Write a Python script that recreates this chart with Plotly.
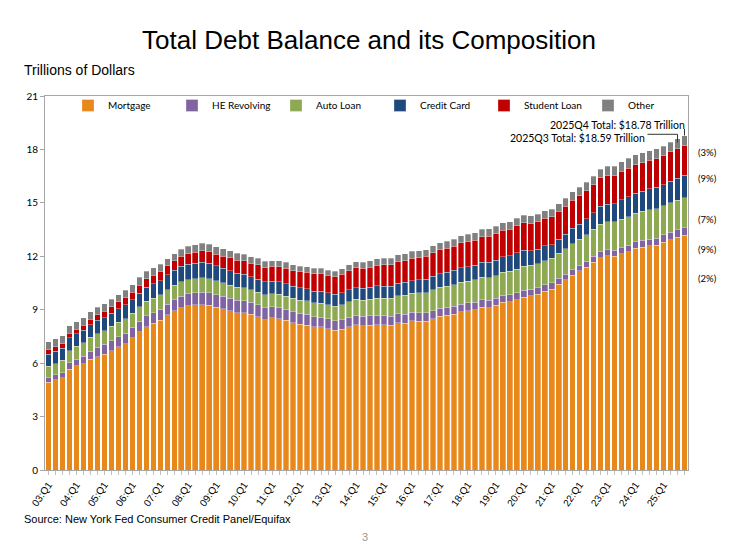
import plotly.graph_objects as go

# quarterly balances, trillions of dollars, 2003Q1 .. 2025Q4
years = list(range(2003, 2026))
quarters = [f"{y}Q{q}" for y in years for q in range(1, 5)]

mortgage = [
    4.94, 5.08, 5.18, 5.66, 5.84, 5.97, 6.21, 6.36, 6.51, 6.70, 6.91, 7.10,
    7.44, 7.76, 8.05, 8.23, 8.42, 8.71, 8.93, 9.10, 9.23, 9.27, 9.29, 9.26,
    9.14, 9.06, 8.94, 8.84, 8.83, 8.74, 8.61, 8.45, 8.54, 8.50, 8.40, 8.27,
    8.19, 8.14, 8.03, 8.03, 7.93, 7.84, 7.90, 8.05, 8.17, 8.10, 8.13, 8.17,
    8.17, 8.12, 8.26, 8.25, 8.37, 8.36, 8.35, 8.48, 8.63, 8.69, 8.74, 8.88,
    8.94, 9.00, 9.14, 9.12, 9.24, 9.41, 9.44, 9.56, 9.71, 9.78, 9.86, 10.04,
    10.16, 10.44, 10.67, 10.93, 11.18, 11.39, 11.67, 11.92, 12.04, 12.01, 12.14, 12.25,
    12.44, 12.52, 12.59, 12.61, 12.80, 12.94, 13.07, 13.17,
]
he_revolving = [
    0.24, 0.26, 0.29, 0.35, 0.39, 0.43, 0.47, 0.53, 0.54, 0.57, 0.58, 0.58,
    0.58, 0.60, 0.60, 0.60, 0.61, 0.61, 0.63, 0.65, 0.67, 0.68, 0.69, 0.70,
    0.71, 0.71, 0.70, 0.69, 0.68, 0.67, 0.67, 0.67, 0.64, 0.64, 0.64, 0.63,
    0.61, 0.61, 0.58, 0.56, 0.56, 0.55, 0.54, 0.53, 0.53, 0.53, 0.52, 0.51,
    0.51, 0.51, 0.50, 0.49, 0.49, 0.48, 0.47, 0.47, 0.46, 0.45, 0.45, 0.44,
    0.44, 0.43, 0.42, 0.41, 0.40, 0.40, 0.39, 0.39, 0.39, 0.37, 0.36, 0.35,
    0.35, 0.32, 0.32, 0.32, 0.32, 0.32, 0.32, 0.34, 0.34, 0.34, 0.35, 0.36,
    0.37, 0.37, 0.38, 0.39, 0.40, 0.41, 0.41, 0.43,
]
auto_loan = [
    0.64, 0.64, 0.68, 0.70, 0.72, 0.74, 0.77, 0.77, 0.78, 0.79, 0.82, 0.82,
    0.79, 0.80, 0.82, 0.82, 0.80, 0.81, 0.81, 0.82, 0.79, 0.80, 0.81, 0.79,
    0.77, 0.74, 0.74, 0.72, 0.71, 0.70, 0.70, 0.71, 0.71, 0.72, 0.73, 0.73,
    0.74, 0.75, 0.77, 0.78, 0.79, 0.81, 0.84, 0.86, 0.88, 0.90, 0.93, 0.96,
    0.97, 1.00, 1.03, 1.06, 1.07, 1.10, 1.14, 1.16, 1.17, 1.19, 1.21, 1.22,
    1.22, 1.24, 1.26, 1.27, 1.28, 1.30, 1.32, 1.33, 1.35, 1.34, 1.36, 1.37,
    1.37, 1.41, 1.44, 1.46, 1.47, 1.50, 1.52, 1.55, 1.56, 1.58, 1.60, 1.61,
    1.62, 1.63, 1.64, 1.66, 1.64, 1.66, 1.67, 1.68,
]
credit_card = [
    0.69, 0.69, 0.69, 0.72, 0.70, 0.70, 0.71, 0.74, 0.72, 0.73, 0.74, 0.77,
    0.74, 0.76, 0.78, 0.80, 0.80, 0.82, 0.84, 0.87, 0.86, 0.87, 0.87, 0.87,
    0.84, 0.82, 0.81, 0.80, 0.76, 0.74, 0.73, 0.73, 0.70, 0.70, 0.70, 0.70,
    0.68, 0.68, 0.67, 0.68, 0.66, 0.67, 0.67, 0.68, 0.66, 0.67, 0.68, 0.70,
    0.68, 0.70, 0.71, 0.73, 0.71, 0.73, 0.75, 0.78, 0.76, 0.78, 0.81, 0.83,
    0.82, 0.83, 0.84, 0.87, 0.85, 0.87, 0.88, 0.93, 0.89, 0.82, 0.81, 0.82,
    0.77, 0.79, 0.80, 0.86, 0.84, 0.89, 0.93, 0.99, 0.99, 1.03, 1.08, 1.13,
    1.12, 1.14, 1.17, 1.21, 1.18, 1.21, 1.23, 1.28,
]
student_loan = [
    0.24, 0.24, 0.25, 0.25, 0.26, 0.28, 0.30, 0.33, 0.36, 0.38, 0.39, 0.39,
    0.43, 0.46, 0.48, 0.48, 0.51, 0.51, 0.53, 0.55, 0.58, 0.61, 0.64, 0.64,
    0.66, 0.68, 0.72, 0.72, 0.76, 0.76, 0.81, 0.81, 0.84, 0.85, 0.87, 0.87,
    0.90, 0.91, 0.96, 0.97, 0.99, 0.99, 1.03, 1.08, 1.11, 1.12, 1.13, 1.16,
    1.19, 1.19, 1.20, 1.23, 1.26, 1.26, 1.28, 1.31, 1.34, 1.34, 1.36, 1.38,
    1.41, 1.41, 1.44, 1.46, 1.49, 1.48, 1.50, 1.51, 1.54, 1.54, 1.55, 1.56,
    1.58, 1.57, 1.58, 1.58, 1.59, 1.59, 1.57, 1.60, 1.60, 1.57, 1.60, 1.60,
    1.60, 1.59, 1.61, 1.62, 1.63, 1.64, 1.65, 1.66,
]
other = [
    0.46, 0.47, 0.45, 0.42, 0.42, 0.42, 0.42, 0.41, 0.42, 0.41, 0.41, 0.42,
    0.42, 0.43, 0.42, 0.42, 0.40, 0.40, 0.41, 0.41, 0.42, 0.42, 0.42, 0.42,
    0.41, 0.41, 0.40, 0.39, 0.38, 0.37, 0.36, 0.35, 0.33, 0.33, 0.33, 0.33,
    0.31, 0.31, 0.31, 0.32, 0.30, 0.30, 0.31, 0.33, 0.33, 0.35, 0.36, 0.36,
    0.36, 0.37, 0.38, 0.39, 0.38, 0.39, 0.39, 0.39, 0.39, 0.39, 0.40, 0.41,
    0.41, 0.41, 0.41, 0.42, 0.42, 0.42, 0.42, 0.43, 0.42, 0.42, 0.41, 0.42,
    0.41, 0.42, 0.44, 0.47, 0.47, 0.48, 0.49, 0.50, 0.52, 0.53, 0.53, 0.55,
    0.54, 0.55, 0.55, 0.55, 0.54, 0.55, 0.56, 0.56,
]

series = [
    ("Mortgage", mortgage, "#E8871A"),
    ("HE Revolving", he_revolving, "#8064A2"),
    ("Auto Loan", auto_loan, "#8DAA52"),
    ("Credit Card", credit_card, "#1F497D"),
    ("Student Loan", student_loan, "#C00000"),
    ("Other", other, "#808080"),
]
share_labels = ["(2%)", "(9%)", "(7%)", "(9%)", "(3%)"]

# page has an 8px body margin, so the figure is drawn 8px smaller
W, H = 722, 539
L, R, T, B = 37, 42, 88, 77
pw, ph = W - L - R, H - T - B


def px(xw):  # window pixel -> paper x
    return (xw - 8 - L) / pw


def py(yw):  # window pixel -> paper y
    return (H - B - (yw - 8)) / ph


x = list(range(len(quarters)))
fig = go.Figure()
for name, vals, col in series:
    fig.add_trace(go.Bar(x=x, y=vals, name=name, marker_color=col,
                         marker_line=dict(color="rgba(255,255,255,0.6)", width=0.5),
                         customdata=quarters,
                         hovertemplate="%{customdata}<br>" + name + ": %{y:.2f}<extra></extra>"))

totals = [round(sum(s[1][i] for s in series), 2) for i in x]
last, prev = x[-1], x[-2]

# callouts for the last two quarters
fig.add_annotation(x=last + 0.4, y=19.4, xref="x", yref="y", text=f"2025Q4 Total: ${totals[last]:.2f} Trillion",
                   showarrow=False, xanchor="right", font=dict(size=10.5, family="Lato", color="#000"))
fig.add_annotation(x=prev - 4.3, y=18.62, xref="x", yref="y", text=f"2025Q3 Total: ${totals[prev]:.2f} Trillion",
                   showarrow=False, xanchor="right", font=dict(size=10.5, family="Lato", color="#000"))
fig.add_shape(type="line", xref="x", yref="y", x0=last, x1=last, y0=19.15, y1=totals[last],
              line=dict(color="#333", width=1))
fig.add_shape(type="path", xref="x", yref="y",
              path=f"M {prev - 4.3},18.85 L {prev},18.85 L {prev},{totals[prev] - 0.2}",
              line=dict(color="#333", width=1))

# share labels on the right
for lab, yw in zip(share_labels, [278, 249, 212, 171, 145]):
    fig.add_annotation(x=px(696), y=py(yw), xref="paper", yref="paper", text=lab, showarrow=False,
                       xanchor="left", font=dict(size=9.5, family="Lato", color="#000"))

fig.update_layout(
    width=W, height=H,
    margin=dict(l=L, r=R, t=T, b=B, autoexpand=False),
    paper_bgcolor="white", plot_bgcolor="white",
    barmode="stack", bargap=0.2,
    title=dict(text="Total Debt Balance and its Composition", x=0.5, xanchor="center",
               y=1 - 32 / H, yanchor="middle",
               font=dict(size=26, family="Liberation Sans", color="#000")),
    legend=dict(orientation="h", x=px(68), xanchor="left", y=py(91), yanchor="top",
                entrywidth=59, traceorder="normal", bgcolor="rgba(0,0,0,0)",
                font=dict(size=10, family="Lato", color="#000")),
    xaxis=dict(range=[-0.5, len(x) - 0.5], tickvals=x,
               ticktext=[f"{q[2:4]}:Q1" if q.endswith("Q1") else "" for q in quarters],
               tickangle=-55, ticks="outside", ticklen=4, tickcolor="#BFBFBF",
               showline=True, linecolor="#A6A6A6", linewidth=1, mirror=True,
               tickfont=dict(size=10, family="Liberation Sans", color="#000"), showgrid=False),
    yaxis=dict(range=[0, 21], dtick=3, ticks="outside", ticklen=4, tickcolor="#A6A6A6",
               showline=True, linecolor="#A6A6A6", linewidth=1, mirror=True, showgrid=False,
               tickfont=dict(size=10, family="Lato", color="#000")),
)

fig.add_annotation(x=px(22), y=py(70), xref="paper", yref="paper", text="Trillions of Dollars",
                   showarrow=False, xanchor="left", yanchor="middle",
                   font=dict(size=14, family="Liberation Sans", color="#000"))
fig.add_annotation(x=px(22), y=py(519), xref="paper", yref="paper",
                   text="Source: New York Fed Consumer Credit Panel/Equifax",
                   showarrow=False, xanchor="left", yanchor="middle",
                   font=dict(size=11, family="Liberation Sans", color="#000"))
fig.add_annotation(x=px(365), y=py(537), xref="paper", yref="paper", text="3",
                   showarrow=False, xanchor="center", yanchor="middle",
                   font=dict(size=11, family="Liberation Sans", color="#999"))

fig.write_html("out.html")
